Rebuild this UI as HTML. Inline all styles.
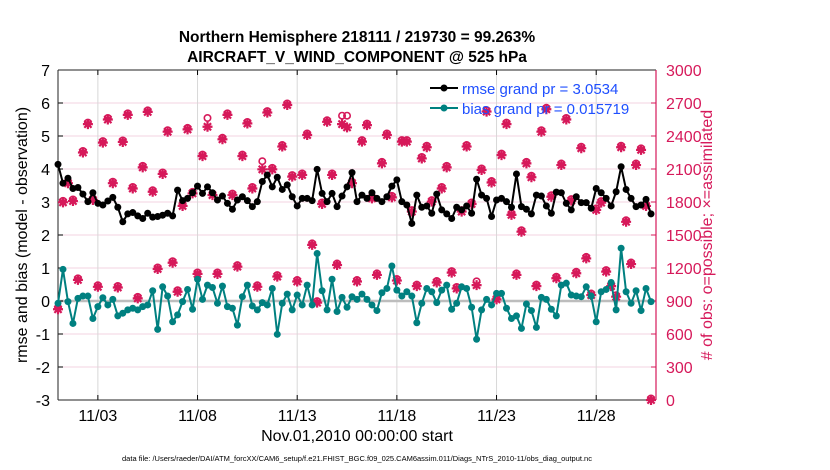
<!DOCTYPE html>
<html><head><meta charset="utf-8"><style>
html,body{margin:0;padding:0;background:#fff;}
svg{display:block;font-family:"Liberation Sans",Arial,sans-serif;}
</style></head><body>
<svg id="chart" width="830" height="470" viewBox="0 0 830 470" xmlns="http://www.w3.org/2000/svg">
<text x="357" y="42" text-anchor="middle" font-size="15.5" font-weight="bold">Northern Hemisphere 218111 / 219730 = 99.263%</text>
<text x="357" y="62" text-anchor="middle" font-size="15.5" font-weight="bold">AIRCRAFT_V_WIND_COMPONENT @ 525 hPa</text>
<g id="grid"></g>
<g id="axes"></g>
<g id="marks"></g>
<text transform="translate(27,235) rotate(-90)" text-anchor="middle" font-size="16">rmse and bias (model - observation)</text>
<text transform="translate(712,235) rotate(-90)" text-anchor="middle" font-size="16" fill="#d6195a"># of obs: o=possible; ×=assimilated</text>
<text x="357" y="441" text-anchor="middle" font-size="16">Nov.01,2010 00:00:00 start</text>
<text x="357" y="461" text-anchor="middle" font-size="7.5">data file: /Users/raeder/DAI/ATM_forcXX/CAM6_setup/f.e21.FHIST_BGC.f09_025.CAM6assim.011/Diags_NTrS_2010-11/obs_diag_output.nc</text>
<g>
<line x1="430" y1="88" x2="458" y2="88" stroke="#000" stroke-width="2"/>
<circle cx="444" cy="88" r="3.5" fill="#000"/>
<text x="462" y="94" font-size="15" fill="#1f4fff">rmse grand pr = 3.0534</text>
<line x1="430" y1="108" x2="458" y2="108" stroke="#008080" stroke-width="2"/>
<circle cx="444" cy="108" r="3.5" fill="#008080"/>
<text x="462" y="114" font-size="15" fill="#1f4fff">bias grand pr = 0.015719</text>
</g>
</svg>
<script>
const rmse=[4.14,3.57,3.72,3.41,3.44,3.24,3.01,3.28,2.96,2.91,3.03,3.14,2.84,2.4,2.64,2.68,2.58,2.5,2.66,2.54,2.56,
2.6,2.66,2.58,3.36,3.04,3.11,3.28,3.48,3.26,3.46,3.28,3.06,3.18,2.96,2.78,3.06,3.16,3.04,2.86,
3.01,3.62,3.82,3.46,3.75,3.38,3.52,3.16,2.88,3.11,3.11,3.04,3.99,3.26,3.01,3.26,2.86,3.18,3.46,3.89,
3.01,3.21,3.11,3.28,3.11,3.01,3.16,3.48,3.67,3.01,2.91,2.35,3.21,2.84,2.88,2.66,3.24,2.76,2.64,2.5,
2.84,2.76,2.88,2.66,3.69,3.21,3.11,2.56,3.06,3.11,3.01,2.84,3.85,2.86,2.78,2.64,3.21,3.18,2.88,2.66,
3.3,3.28,2.96,2.76,3.16,2.98,2.98,2.81,3.41,3.28,3.11,2.88,3.31,4.07,3.38,3.11,2.86,2.91,3.08,2.64];
const bias=[-0.07,0.96,-0.02,-0.68,0.08,0.15,0.15,-0.53,-0.17,0.1,-0.12,0.05,-0.45,-0.37,-0.27,-0.22,-0.27,-0.17,-0.12,0.31,-0.86,
0.43,0.15,-0.63,-0.42,-0.02,0.35,-0.25,0.66,0.05,0.48,0.41,-0.07,0.45,-0.17,-0.22,-0.73,0.13,0.48,-0.15,
-0.27,-0.05,-0.12,0.38,-1.01,-0.07,0.21,-0.27,0.18,-0.12,0.48,-0.12,1.44,0.31,-0.27,0.66,-0.32,0.11,-0.19,0.13,
0.05,0.21,0.05,-0.12,-0.29,0.25,0.38,1.06,0.33,0.15,0.28,0.15,-0.66,-0.07,0.38,0.28,-0.05,0.33,0.48,-0.25,
-0.07,0.43,0.38,-0.19,-1.16,-0.27,0.05,-0.12,0.23,0.23,-0.22,-0.53,-0.45,-0.83,-0.09,-0.29,-0.8,0.11,0.05,-0.25,
-0.45,0.48,0.54,0.18,0.15,0.13,0.43,0.15,-0.63,0.28,0.35,0.56,-0.27,1.6,0.28,-0.07,0.31,-0.29,0.38,-0.02];
const nAssim=[825,1797,1971,1809,1092,2250,2508,1818,1029,2340,2550,1971,1023,2346,2592,1923,924,2115,2619,1893,
1191,2055,2439,1248,984,1764,2460,1878,1146,2217,2484,1863,1146,2370,2592,1863,1212,2217,2514,1923,
1029,2097,2613,2097,1122,2304,2682,2031,1077,2046,2409,1410,885,1782,2529,2046,1227,2508,2478,1971,
1077,2349,2499,1833,1137,2151,2409,1842,1086,2349,2349,1713,1035,2196,2298,1803,1068,1923,2115,1158,
1014,1713,2304,1782,1044,2091,2622,1977,915,2226,2508,1683,1137,1530,2151,2025,1035,2439,2643,1848,
1107,2136,2550,1812,1152,2289,1287,954,1728,1794,1167,1035,939,2298,1620,1236,2136,2274,1764,0];
const nPoss=nAssim.slice();
nPoss[30]=2550;nPoss[41]=2157;nPoss[57]=2571;nPoss[58]=2571;nPoss[84]=1065;
const leftTicks=[7,6,5,4,3,2,1,0,-1,-2,-3];
const rightTicks=[3000,2700,2400,2100,1800,1500,1200,900,600,300,0];
const dateTicks=[2,7,12,17,22,27];
const dateLabels=["11/03","11/08","11/13","11/18","11/23","11/28"];
const stepDays=0.25;

const X0=58,X1=656,Y0=70,Y1=400;
const xs=d=>X0+(d/30)*(X1-X0);
const yl=v=>Y1-(v+3)/10*(Y1-Y0);
const yr=v=>Y1-v/3000*(Y1-Y0);
const NS="http://www.w3.org/2000/svg";
function mk(tag,attrs,parent){const e=document.createElementNS(NS,tag);for(const k in attrs)e.setAttribute(k,attrs[k]);parent.appendChild(e);return e;}
const grid=document.getElementById('grid'),axes=document.getElementById('axes'),marks=document.getElementById('marks');
mk('rect',{x:X0,y:Y0,width:X1-X0,height:Y1-Y0,fill:'#fff'},grid);
leftTicks.forEach(v=>{
  if(v!==7&&v!==-3){const l=mk('line',{x1:X0,x2:X1,y1:yl(v),y2:yl(v),stroke:'#f3d3e0','stroke-width':1},grid);
  
  }
  const t=mk('text',{x:X0-8,y:yl(v)+6,'text-anchor':'end','font-size':16},axes);t.textContent=v;
  
  
  mk('line',{x1:X0,x2:X0+5,y1:yl(v),y2:yl(v),stroke:'#000'},axes);
});
rightTicks.forEach(v=>{
  const t=mk('text',{x:X1+10,y:yr(v)+6,'font-size':16,fill:'#d6195a'},axes);t.textContent=v;
  
  
  mk('line',{x1:X1-5,x2:X1,y1:yr(v),y2:yr(v),stroke:'#d6195a'},axes);
});
dateTicks.forEach((d,i)=>{
  const l=mk('line',{x1:xs(d),x2:xs(d),y1:Y0,y2:Y1,stroke:'#d8d8d8'},grid);
  
  
  mk('line',{x1:xs(d),x2:xs(d),y1:Y1-5,y2:Y1,stroke:'#000'},axes);
  mk('line',{x1:xs(d),x2:xs(d),y1:Y0,y2:Y0+5,stroke:'#000'},axes);
  const t=mk('text',{x:xs(d),y:Y1+21,'text-anchor':'middle','font-size':16},axes);t.textContent=dateLabels[i];
  
  
});
const zl=mk('line',{x1:X0,x2:X1,y1:yl(0),y2:yl(0),stroke:'#bdbdbd','stroke-width':2.5},grid);


mk('line',{x1:X0,x2:X1,y1:Y0,y2:Y0,stroke:'#222'},axes);
mk('line',{x1:X0,x2:X1,y1:Y1,y2:Y1,stroke:'#222'},axes);
mk('line',{x1:X0,x2:X0,y1:Y0,y2:Y1,stroke:'#222'},axes);
mk('line',{x1:X1,x2:X1,y1:Y0,y2:Y1,stroke:'#d6195a','stroke-width':1.2},axes);

const pg=mk('g',{},marks);


nPoss.forEach((v,i)=>{
  const c=mk('circle',{cx:xs(i*stepDays),cy:yr(v)-1.5,r:3.2,fill:'none',stroke:'#d6195a','stroke-width':1.6},pg);
  
  
});
nAssim.forEach((v,i)=>{
  const x=xs(i*stepDays),y=yr(v),s=5,d=3.6;
  const p=mk('path',{d:`M${x-s},${y}H${x+s}M${x},${y-s}V${y+s}M${x-d},${y-d}L${x+d},${y+d}M${x-d},${y+d}L${x+d},${y-d}`,stroke:'#d6195a','stroke-width':2.2},pg);
  
  
});
function series(arr,color,name){
  const g=mk('g',{},marks);
  
  
  const pts=arr.map((v,i)=>xs(i*stepDays).toFixed(2)+','+yl(v).toFixed(2)).join(' ');
  mk('polyline',{points:pts,fill:'none',stroke:color,'stroke-width':2},g);
  arr.forEach((v,i)=>{
    const c=mk('circle',{cx:xs(i*stepDays),cy:yl(v),r:3.5,fill:color},g);
    
    
  });
}
series(rmse,'#000','rmse-series');
series(bias,'#008080','bias-series');
</script>
</body></html>
